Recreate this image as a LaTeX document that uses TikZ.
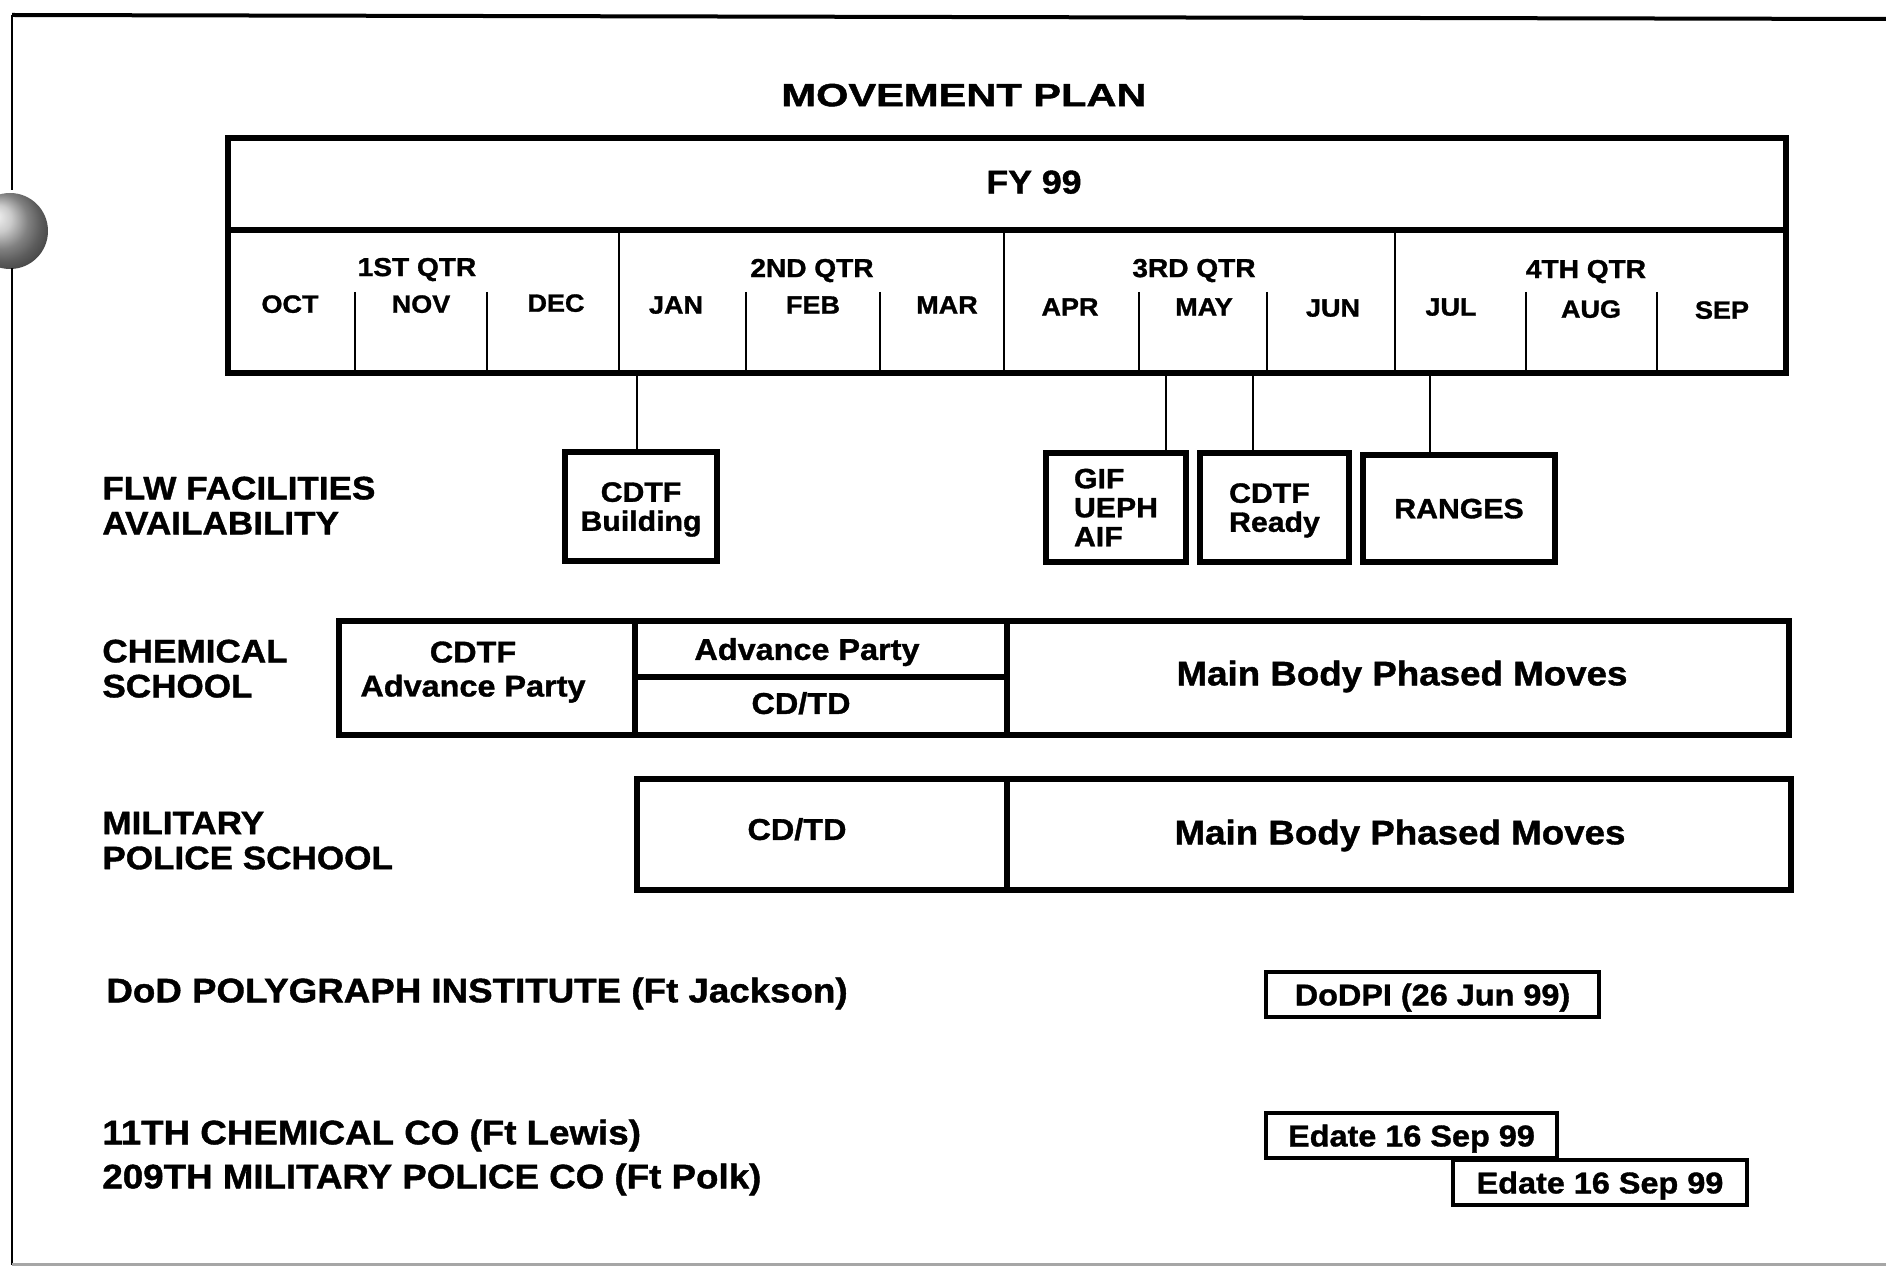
\documentclass[tikz,border=0pt]{standalone}
\usepackage{fontspec}
\setmainfont{Liberation Sans}[FakeStretch=1.08, FakeBold=1.2]
\newfontfamily\titlefont{Liberation Sans}[FakeStretch=1.3, FakeBold=1.4]
\begin{document}
\begin{tikzpicture}[x=0.5pt, y=-0.5pt,
  every node/.style={inner sep=0pt, text depth=0pt},
  thickbox/.style={draw, line width=2.6pt, inner sep=0pt},
  datebox/.style={draw, line width=2.2pt, inner sep=0pt, font=\bfseries\fontsize{15}{17}\selectfont},
  divider/.style={line width=1.3pt},
  monthdiv/.style={line width=1.1pt},
  conn/.style={line width=1.1pt},
  titletext/.style={font=\titlefont\bfseries\fontsize{16}{18}\selectfont},
  fytext/.style={font=\bfseries\fontsize{16.5}{18}\selectfont},
  qtrtext/.style={font=\bfseries\fontsize{13}{15}\selectfont},
  monthtext/.style={font=\bfseries\fontsize{12.5}{14}\selectfont},
  rowlabel/.style={font=\bfseries\fontsize{16.25}{17.5}\selectfont, align=left, anchor=west},
  facbox/.style={thickbox, font=\bfseries\fontsize{14}{14.5}\selectfont, minimum height=54.5pt},
  celltext/.style={font=\bfseries\fontsize{15}{17}\selectfont, align=center},
  bigtext/.style={font=\bfseries\fontsize{17}{20}\selectfont},
]
\useasboundingbox (0,0) rectangle (1886,1267);

% page frame and punch hole
\shade[ball color=gray!55] (10,231) circle[radius=19pt];
\draw[line width=2pt] (12,15) -- (1886,19);
\draw[line width=1.2pt] (12,15) -- (12,190);
\draw[line width=1.2pt] (12,268) -- (12,1265);
\draw[line width=1.5pt, gray!70] (12,1264) -- (1886,1264);

% title
\node[titletext] (title) at (964,95) {MOVEMENT PLAN};

% timeline table
\node[thickbox, minimum width=779pt, minimum height=46pt] (fyrow) at (1007,184) {};
\node[thickbox, minimum width=779pt, minimum height=71.5pt] (mrow) at (1007,301.5) {};
\node[fytext] (fy) at (1034,182) {FY 99};
\foreach \x in {619,1004,1395} \draw[divider] (\x,230) -- (\x,373);
\foreach \x in {355,487,746,880,1139,1267,1526,1657} \draw[monthdiv] (\x,292) -- (\x,373);

\node[qtrtext] (q1) at (417,267) {1ST QTR};
\node[qtrtext] (q2) at (812,268) {2ND QTR};
\node[qtrtext] (q3) at (1194,268) {3RD QTR};
\node[qtrtext] (q4) at (1586,269) {4TH QTR};

\node[monthtext] (m1) at (290,304) {OCT};
\node[monthtext] (m2) at (421,304) {NOV};
\node[monthtext] (m3) at (556,303) {DEC};
\node[monthtext] (m4) at (676,305) {JAN};
\node[monthtext] (m5) at (813,305) {FEB};
\node[monthtext] (m6) at (947,305) {MAR};
\node[monthtext] (m7) at (1070,307) {APR};
\node[monthtext] (m8) at (1204,307) {MAY};
\node[monthtext] (m9) at (1333,308) {JUN};
\node[monthtext] (m10) at (1451,307) {JUL};
\node[monthtext] (m11) at (1591,309) {AUG};
\node[monthtext] (m12) at (1722,310) {SEP};

% facility boxes
\node[facbox, minimum width=76pt, align=center] (bldg) at (641,506.5) {CDTF\\Building};
\node[facbox, minimum width=70pt, align=left] (gif) at (1116,507.5) {GIF\\UEPH\\AIF};
\node[facbox, minimum width=74.5pt, align=left] (ready) at (1274.5,507.5) {CDTF\\Ready};
\node[facbox, minimum width=96pt, minimum height=53.5pt] (ranges) at (1459,508.5) {RANGES};

\coordinate (t1) at (637,373);
\coordinate (t2) at (1166,373);
\coordinate (t3) at (1253,373);
\coordinate (t4) at (1430,373);
\draw[conn] (t1) -- (t1 |- bldg.north);
\draw[conn] (t2) -- (t2 |- gif.north);
\draw[conn] (t3) -- (t3 |- ready.north);
\draw[conn] (t4) -- (t4 |- ranges.north);

% row labels
\node[rowlabel] (flw) at (102,505.5) {FLW FACILITIES\\AVAILABILITY};
\node[rowlabel] (chem) at (102,668.5) {CHEMICAL\\SCHOOL};
\node[rowlabel] (mps) at (102,840.5) {MILITARY\\POLICE SCHOOL};

% chemical school row
\node[thickbox, minimum width=148pt, minimum height=57pt] (chadv) at (487,678) {};
\node[thickbox, minimum width=186pt, minimum height=28pt] (chap) at (821,649) {};
\node[thickbox, minimum width=186pt, minimum height=29pt] (chcd) at (821,706) {};
\node[thickbox, minimum width=391pt, minimum height=57pt] (chmain) at (1398,678) {};
\node[celltext] (chadvT) at (473,669) {CDTF\\Advance Party};
\node[celltext] (chapT) at (807,649) {Advance Party};
\node[celltext] (chcdT) at (801,703) {CD/TD};
\node[bigtext] (chmainT) at (1402,673) {Main Body Phased Moves};

% military police school row
\node[thickbox, minimum width=185pt, minimum height=55.5pt] (mpcd) at (822,834.5) {};
\node[thickbox, minimum width=392pt, minimum height=55.5pt] (mpmain) at (1399,834.5) {};
\node[celltext] (mpcdT) at (797,829) {CD/TD};
\node[bigtext] (mpmainT) at (1400,832) {Main Body Phased Moves};

% bottom rows
\node[bigtext, anchor=west] (dod) at (106,990) {DoD POLYGRAPH INSTITUTE (Ft Jackson)};
\node[datebox, minimum width=166.5pt, minimum height=22.5pt] (dodpi) at (1432.5,994.5) {DoDPI (26 Jun 99)};
\node[bigtext, anchor=west] (chco) at (102,1132) {11TH CHEMICAL CO (Ft Lewis)};
\node[bigtext, anchor=west] (mpco) at (102,1176) {209TH MILITARY POLICE CO (Ft Polk)};
\node[datebox, minimum width=145.5pt, minimum height=22.5pt] (ed1) at (1411.5,1135.5) {Edate 16 Sep 99};
\node[datebox, minimum width=147pt, minimum height=22.5pt] (ed2) at (1600,1182.5) {Edate 16 Sep 99};
\end{tikzpicture}
\end{document}
